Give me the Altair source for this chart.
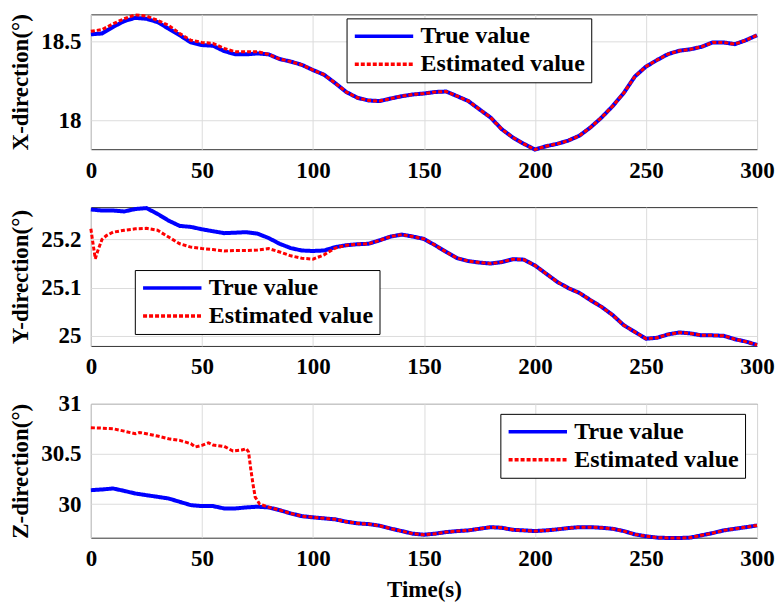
import altair as alt
import pandas as pd

FONT = "Liberation Serif"
SERIES = ["True value", "Estimated value"]

time_s = [0, 5, 10, 15, 20, 25, 30, 35, 40, 45, 50, 55, 60, 65, 70, 75, 80, 85, 90, 95,
          100, 105, 110, 115, 120, 125, 130, 135, 140, 145, 150, 155, 160, 165, 170, 175,
          180, 185, 190, 195, 200, 205, 210, 215, 220, 225, 230, 235, 240, 245, 250, 255,
          260, 265, 270, 275, 280, 285, 290, 295, 300]

x_true = [18.548, 18.553, 18.595, 18.632, 18.653, 18.647, 18.626, 18.584, 18.542, 18.496,
          18.479, 18.475, 18.441, 18.420, 18.420, 18.426, 18.420, 18.390, 18.374, 18.353,
          18.320, 18.290, 18.237, 18.180, 18.143, 18.126, 18.122, 18.138, 18.153, 18.164,
          18.170, 18.180, 18.183, 18.153, 18.122, 18.069, 18.017, 17.943, 17.890, 17.849,
          17.813, 17.834, 17.849, 17.870, 17.901, 17.954, 18.017, 18.090, 18.174, 18.279,
          18.342, 18.384, 18.422, 18.443, 18.452, 18.468, 18.496, 18.496, 18.485, 18.510,
          18.542]
x_est = [18.567, 18.578, 18.615, 18.647, 18.672, 18.664, 18.637, 18.605, 18.553, 18.510,
         18.496, 18.490, 18.458, 18.437, 18.437, 18.437, 18.420, 18.390, 18.374, 18.353,
         18.320, 18.290, 18.237, 18.180, 18.143, 18.126, 18.122, 18.138, 18.153, 18.164,
         18.170, 18.180, 18.183, 18.153, 18.122, 18.069, 18.017, 17.943, 17.890, 17.849,
         17.813, 17.834, 17.849, 17.870, 17.901, 17.954, 18.017, 18.090, 18.174, 18.279,
         18.342, 18.384, 18.422, 18.443, 18.452, 18.468, 18.496, 18.496, 18.485, 18.510,
         18.542]

y_true = [25.262, 25.260, 25.260, 25.258, 25.263, 25.265, 25.253, 25.239, 25.228, 25.226,
          25.221, 25.217, 25.213, 25.214, 25.215, 25.212, 25.203, 25.191, 25.182, 25.177,
          25.176, 25.177, 25.184, 25.188, 25.190, 25.191, 25.198, 25.206, 25.210, 25.206,
          25.201, 25.188, 25.174, 25.161, 25.155, 25.152, 25.150, 25.153, 25.159, 25.158,
          25.146, 25.129, 25.112, 25.099, 25.089, 25.074, 25.060, 25.043, 25.022, 25.008,
          24.994, 24.996, 25.003, 25.007, 25.005, 25.001, 25.001, 25.000, 24.993, 24.988,
          24.981]
y_est_time = [0, 1, 2, 3, 5, 7, 10, 15, 20, 25, 30, 35, 40, 45, 50, 55, 60, 65, 70, 75, 80,
              85, 90, 95, 100, 105, 110, 115, 120, 125, 130, 135, 140, 145, 150, 155, 160,
              165, 170, 175, 180, 185, 190, 195, 200, 205, 210, 215, 220, 225, 230, 235,
              240, 245, 250, 255, 260, 265, 270, 275, 280, 285, 290, 295, 300]
y_est = [25.222, 25.190, 25.160, 25.175, 25.200, 25.208, 25.215, 25.219, 25.222, 25.223,
         25.219, 25.205, 25.191, 25.184, 25.181, 25.179, 25.176, 25.177, 25.177, 25.178,
         25.181, 25.174, 25.166, 25.161, 25.159, 25.168, 25.182, 25.188, 25.190, 25.191,
         25.198, 25.206, 25.210, 25.206, 25.201, 25.188, 25.174, 25.161, 25.155, 25.152,
         25.150, 25.153, 25.159, 25.158, 25.146, 25.129, 25.112, 25.099, 25.089, 25.074,
         25.060, 25.043, 25.022, 25.008, 24.994, 24.996, 25.003, 25.007, 25.005, 25.001,
         25.001, 25.000, 24.993, 24.988, 24.981]

z_true = [30.139, 30.146, 30.156, 30.132, 30.106, 30.089, 30.073, 30.056, 30.023, 29.990,
          29.980, 29.980, 29.957, 29.957, 29.967, 29.974, 29.967, 29.940, 29.907, 29.880,
          29.868, 29.858, 29.848, 29.825, 29.808, 29.801, 29.785, 29.756, 29.731, 29.705,
          29.695, 29.705, 29.721, 29.731, 29.738, 29.754, 29.770, 29.764, 29.744, 29.738,
          29.731, 29.738, 29.748, 29.761, 29.770, 29.770, 29.764, 29.754, 29.731, 29.698,
          29.679, 29.666, 29.662, 29.662, 29.666, 29.689, 29.711, 29.738, 29.754, 29.770,
          29.787]
z_est_time = [0, 5, 10, 15, 20, 22, 25, 30, 35, 40, 45, 47, 50, 53, 55, 60, 64, 68, 70, 71,
              72, 73, 74, 76, 80, 85, 90, 95, 100, 105, 110, 115, 120, 125, 130, 135, 140,
              145, 150, 155, 160, 165, 170, 175, 180, 185, 190, 195, 200, 205, 210, 215,
              220, 225, 230, 235, 240, 245, 250, 255, 260, 265, 270, 275, 280, 285, 290,
              295, 300]
z_est = [30.762, 30.758, 30.752, 30.728, 30.702, 30.715, 30.702, 30.679, 30.652, 30.636,
         30.603, 30.570, 30.586, 30.612, 30.590, 30.576, 30.530, 30.540, 30.553, 30.520,
         30.350, 30.200, 30.070, 30.000, 29.970, 29.940, 29.907, 29.880, 29.868, 29.858,
         29.848, 29.825, 29.808, 29.801, 29.785, 29.756, 29.731, 29.705, 29.695, 29.705,
         29.721, 29.731, 29.738, 29.754, 29.770, 29.764, 29.744, 29.738, 29.731, 29.738,
         29.748, 29.761, 29.770, 29.770, 29.764, 29.754, 29.731, 29.698, 29.679, 29.666,
         29.662, 29.662, 29.666, 29.689, 29.711, 29.738, 29.754, 29.770, 29.787]

x_ticks = [0, 50, 100, 150, 200, 250, 300]
panel_titles = ["X-direction(°)", "Y-direction(°)", "Z-direction(°)"]
panel_domains = [[17.815, 18.675], [24.979, 25.267], [29.665, 31.0]]
panel_yticks = [[18, 18.5], [25, 25.1, 25.2], [30, 30.5, 31]]
panel_heights = [135, 139, 134]
legend_pos = [(256, 4), (44, 63), (410, 10)]


def frame(t_true, v_true, t_est, v_est):
    a = pd.DataFrame({"t": t_true, "v": v_true, "series": SERIES[0]})
    b = pd.DataFrame({"t": t_est, "v": v_est, "series": SERIES[1]})
    return pd.concat([a, b], ignore_index=True)


datasets = [
    frame(time_s, x_true, time_s, x_est),
    frame(time_s, y_true, y_est_time, y_est),
    frame(time_s, z_true, z_est_time, z_est),
]


def panel(i):
    df = datasets[i]
    lx, ly = legend_pos[i]
    leg = alt.Legend(
        orient="none", legendX=lx, legendY=ly, title=None,
        symbolType="M-1,0H5", symbolSize=380, symbolStrokeWidth=3.5,
        labelFont=FONT, labelFontSize=24, labelFontWeight="bold", labelColor="black",
        labelOffset=44, strokeColor="black", fillColor="white", padding=6,
        rowPadding=4, labelLimit=400,
    )
    xaxis = alt.Axis(values=x_ticks, title="Time(s)" if i == 2 else None,
                     labelFlush=False, labelOverlap=False, grid=True)
    x = alt.X("t:Q", scale=alt.Scale(domain=[0, 300], nice=False, zero=False), axis=xaxis)
    y = alt.Y("v:Q", scale=alt.Scale(domain=panel_domains[i], nice=False, zero=False),
              axis=alt.Axis(values=panel_yticks[i], format="~g", title=panel_titles[i],
                            grid=True))
    color = alt.Color("series:N", scale=alt.Scale(domain=SERIES, range=["#0000ff", "#ff0000"]),
                      legend=leg)
    dash = alt.StrokeDash("series:N", scale=alt.Scale(domain=SERIES, range=[[1, 0], [4, 2]]),
                          legend=leg)
    base = alt.Chart(df).encode(x=x, y=y, color=color, strokeDash=dash)
    true_line = base.transform_filter(alt.datum.series == SERIES[0]).mark_line(strokeWidth=4)
    est_line = base.transform_filter(alt.datum.series == SERIES[1]).mark_line(strokeWidth=3)
    return alt.layer(true_line, est_line).properties(width=667, height=panel_heights[i])


chart = alt.vconcat(panel(0), panel(1), panel(2), spacing=58, bounds="flush").resolve_scale(
    color="independent", strokeDash="independent"
).resolve_legend(
    color="independent", strokeDash="independent"
).properties(
    padding={"left": 9, "top": 7, "right": 4, "bottom": 4},
    background="white",
).configure_view(
    stroke="#333333", strokeWidth=1
).configure_axis(
    labelFont=FONT, labelFontSize=23, labelFontWeight="bold", labelColor="black",
    titleFont=FONT, titleFontSize=23, titleFontWeight="bold", titleColor="black",
    gridColor="#dcdcdc", gridWidth=1, ticks=False, domain=False,
    labelPadding=10, titlePadding=8,
)

chart.save("out.html", embed_options={"renderer": "svg", "actions": False})
